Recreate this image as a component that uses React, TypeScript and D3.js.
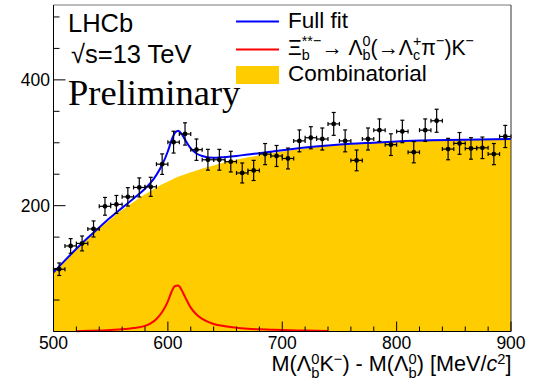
import React, { useEffect, useRef } from 'react';
import * as d3 from 'd3';

// ---- data ----
const binCenters = [505, 515, 525, 535, 545, 555, 565, 575, 585, 595, 605, 615, 625, 635, 645, 655, 665, 675, 685, 695,
  705, 715, 725, 735, 745, 755, 765, 775, 785, 795, 805, 815, 825, 835, 845, 855, 865, 875, 885, 895];
const counts = [99, 136, 140, 163, 199, 202, 214, 229, 230, 266, 301, 314, 289, 273, 273, 270, 252, 256, 282, 279,
  275, 303, 308, 306, 330, 303, 272, 306, 320, 297, 318, 285, 320, 335, 290, 299, 291, 292, 282, 310];
const binHalfWidth = 5;

const fitX = [500, 510, 520, 530, 540, 550, 560, 570, 580, 585, 590, 595, 600, 603, 606, 609, 612, 615, 620, 625, 630,
  640, 650, 660, 670, 680, 690, 700, 720, 740, 760, 780, 800, 830, 860, 900];
const bkgY = [94, 113, 131, 148, 164, 179, 193, 206, 218, 223.5, 229, 234, 238.5, 241, 243.5, 246, 248, 250, 253, 256, 259,
  264, 269, 273, 277, 280, 283, 286, 291, 295, 298, 300, 302, 304, 305, 306];
const sigY = [0, 0, 0.5, 1, 1.5, 2.5, 3.5, 5.5, 9, 13, 20, 31, 48, 62, 72, 73, 66, 55, 38, 27, 20,
  12, 8.5, 6, 4.5, 3.5, 2.8, 2.2, 1.5, 0.8, 0.4, 0.2, 0.1, 0, 0, 0];

const xMajorTicks = [500, 600, 700, 800, 900];
const yLabelTicks = [200, 400];

const X_DOMAIN = [500, 900];
const Y_DOMAIN = [0, 519];

type Seg = string | { t: string; italic: boolean } | { sub?: string; sup?: string };

const SANS = "'Liberation Sans', Arial, Helvetica, sans-serif";
const SERIF = "'Liberation Serif', 'Times New Roman', serif";

function rich(parent: any, x: number, y: number, segs: Seg[], fs: number, anchor: 'start' | 'end' = 'start',
  targetWidth = 0, supOff = -0.42, subOff = 0.22) {
  const outer = parent.append('g');
  const g = outer.append('g');
  const text = g.append('text').attr('font-family', SANS).attr('fill', '#000')
    .attr('xml:space', 'preserve').style('white-space', 'pre');
  let cx = 0;
  const add = (txt: string, px: number, py: number, size: number, italic = false) => {
    const t = text.append('tspan').attr('x', px).attr('y', py).attr('font-size', size).text(txt);
    if (italic) t.attr('font-style', 'italic');
    return (t.node() as SVGTSpanElement).getComputedTextLength();
  };
  for (const s of segs) {
    if (typeof s === 'string') {
      cx += add(s, cx, 0, fs);
    } else if ('t' in s) {
      cx += add(s.t, cx, 0, fs, s.italic);
    } else {
      const sf = fs * 0.68;
      let w = 0;
      if (s.sub) w = Math.max(w, add(s.sub, cx, fs * subOff, sf));
      if (s.sup) w = Math.max(w, add(s.sup, cx, fs * supOff, sf));
      cx += w;
    }
  }
  const sx = targetWidth > 0 ? targetWidth / cx : 1;
  const width = cx * sx;
  g.attr('transform', `scale(${sx},1)`);
  outer.attr('transform', `translate(${anchor === 'end' ? x - width : x},${y})`);
  return outer;
}

export default function App() {
  const ref = useRef<SVGSVGElement>(null);
  useEffect(() => {
    const svg = d3.select(ref.current);
    svg.selectAll('*').remove();
    const L = 53.5, R = 511, T = 5, B = 331.5;
    const x = d3.scaleLinear().domain(X_DOMAIN).range([L, R]);
    const y = d3.scaleLinear().domain(Y_DOMAIN).range([B, T]);

    const plot = svg.append('g');
    const idx = d3.range(fitX.length);

    // combinatorial
    const area = d3.area<number>().x(i => x(fitX[i])).y0(y(0)).y1(i => y(bkgY[i])).curve(d3.curveMonotoneX);
    plot.append('path').attr('d', area(idx) as string).attr('fill', '#ffcc00');

    // signal
    const sigIdx = idx.filter(i => sigY[i] >= 0.5);
    const sigLine = d3.line<number>().x(i => x(fitX[i])).y(i => y(sigY[i])).curve(d3.curveMonotoneX);
    plot.append('path').attr('d', sigLine(sigIdx) as string).attr('fill', 'none').attr('stroke', '#ff0000').attr('stroke-width', 2);

    // full fit
    const fullLine = d3.line<number>().x(i => x(fitX[i])).y(i => y(bkgY[i] + sigY[i])).curve(d3.curveMonotoneX);
    plot.append('path').attr('d', fullLine(idx) as string).attr('fill', 'none').attr('stroke', '#0000ff').attr('stroke-width', 2);

    // data points
    const pts = plot.append('g').attr('stroke', '#000').attr('stroke-width', 1.2);
    binCenters.forEach((c, i) => {
      const n = counts[i];
      const e = Math.sqrt(n);
      const cxp = x(c), cyp = y(n);
      const yt = y(n + e), yb = y(n - e);
      const xl = x(c - binHalfWidth), xr = x(c + binHalfWidth);
      pts.append('line').attr('x1', cxp).attr('x2', cxp).attr('y1', yt).attr('y2', yb);
      pts.append('line').attr('x1', xl).attr('x2', xr).attr('y1', cyp).attr('y2', cyp);
      pts.append('line').attr('x1', cxp - 2).attr('x2', cxp + 2).attr('y1', yt).attr('y2', yt);
      pts.append('line').attr('x1', cxp - 2).attr('x2', cxp + 2).attr('y1', yb).attr('y2', yb);
      pts.append('line').attr('x1', xl).attr('x2', xl).attr('y1', cyp - 2).attr('y2', cyp + 2);
      pts.append('line').attr('x1', xr).attr('x2', xr).attr('y1', cyp - 2).attr('y2', cyp + 2);
      pts.append('circle').attr('cx', cxp).attr('cy', cyp).attr('r', 2.4).attr('fill', '#000').attr('stroke', 'none');
    });

    // frame
    svg.append('line').attr('x1', L).attr('x2', R).attr('y1', T).attr('y2', T).attr('stroke', '#777');
    svg.append('line').attr('x1', R).attr('x2', R).attr('y1', T).attr('y2', B).attr('stroke', '#333');
    svg.append('line').attr('x1', L).attr('x2', L).attr('y1', T).attr('y2', B).attr('stroke', '#000');
    svg.append('line').attr('x1', L).attr('x2', R).attr('y1', B).attr('y2', B).attr('stroke', '#000');

    // x ticks
    const xt = svg.append('g').attr('stroke', '#000').attr('stroke-width', 1);
    d3.range(X_DOMAIN[0], X_DOMAIN[1] + 1, 20).forEach(v => {
      const major = xMajorTicks.includes(v);
      xt.append('line').attr('x1', x(v)).attr('x2', x(v)).attr('y1', B).attr('y2', B - (major ? 10 : 5));
    });
    xMajorTicks.forEach(v => {
      svg.append('text').attr('x', x(v)).attr('y', 348.5).attr('text-anchor', 'middle')
        .attr('font-family', SANS).attr('font-size', 17.5).text(String(v));
    });

    // y ticks
    const yt = svg.append('g').attr('stroke', '#000').attr('stroke-width', 1);
    d3.range(50, Y_DOMAIN[1], 50).forEach(v => {
      const major = yLabelTicks.includes(v);
      yt.append('line').attr('x1', L).attr('x2', L + (major ? 12 : 6)).attr('y1', y(v)).attr('y2', y(v));
    });
    yLabelTicks.forEach(v => {
      svg.append('text').attr('x', 50).attr('y', y(v) + 6.3).attr('text-anchor', 'end')
        .attr('font-family', SANS).attr('font-size', 17.5).text(String(v));
    });

    // x title
    rich(svg, 511.5, 371, ['M(Λ', { sub: 'b', sup: '0' }, 'K', { sup: '−' }, ') - M(Λ', { sub: 'b', sup: '0' }, ') [MeV/',
      { t: 'c', italic: true }, { sup: '2' }, ']'], 22, 'end', 240, -0.3, 0.34);

    // labels
    svg.append('text').attr('x', 68).attr('y', 32).attr('font-family', SANS).attr('font-size', 25.5).text('LHCb');
    svg.append('text').attr('x', 71).attr('y', 63).attr('font-family', SANS).attr('font-size', 25.5).text('√s=13 TeV');
    svg.append('text').attr('x', 68).attr('y', 105).attr('font-family', SERIF).attr('font-size', 36.5).text('Preliminary');

    // legend
    svg.append('line').attr('x1', 236).attr('x2', 279).attr('y1', 21.5).attr('y2', 21.5).attr('stroke', '#0000ff').attr('stroke-width', 2);
    svg.append('line').attr('x1', 236).attr('x2', 279).attr('y1', 49.5).attr('y2', 49.5).attr('stroke', '#ff0000').attr('stroke-width', 2);
    svg.append('rect').attr('x', 236).attr('y', 66).attr('width', 43).attr('height', 18).attr('fill', '#ffcc00');
    rich(svg, 288, 28, ['Full fit'], 22.5);
    rich(svg, 288, 55, ['Ξ', { sub: 'b', sup: '**−' }, '→ Λ', { sub: 'b', sup: '0' }, '(→Λ', { sub: 'c', sup: '+' }, 'π',
      { sup: '−' }, ')K', { sup: '−' }], 22.5, 'start', 186, -0.4, 0.22);
    rich(svg, 288, 81, ['Combinatorial'], 22.5);
  }, []);
  return <svg ref={ref} width={537} height={383} style={{ position: 'fixed', left: 0, top: 0, background: '#fff' }} />;
}
